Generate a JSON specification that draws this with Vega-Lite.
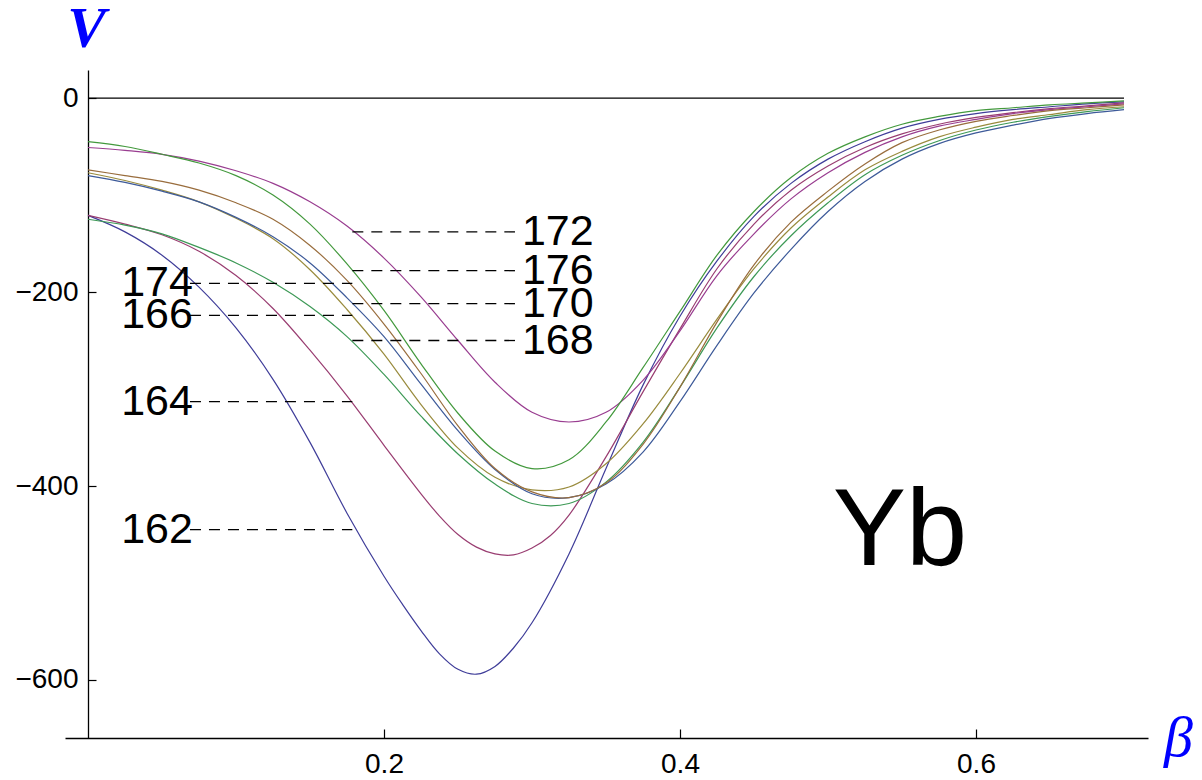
{
  "$schema": "https://vega.github.io/schema/vega-lite/v6.json",
  "width": 1083,
  "height": 668,
  "autosize": {"type": "none"},
  "padding": {"left": 65, "top": 70, "right": 54, "bottom": 42},
  "background": "white",
  "config": {
    "view": {"stroke": null},
    "axis": {"grid": false, "domainColor": "black", "tickColor": "black", "labelColor": "black", "labelFont": "Liberation Sans", "labelFontSize": 28, "domainWidth": 1.3, "tickWidth": 1.2}
  },
  "datasets": {
    "curves": [
      {"iso":"162","b":0,"V":-121},{"iso":"162","b":0.025,"V":-138},{"iso":"162","b":0.05,"V":-162},{"iso":"162","b":0.075,"V":-195},{"iso":"162","b":0.1,"V":-237},{"iso":"162","b":0.125,"V":-290},{"iso":"162","b":0.15,"V":-355},{"iso":"162","b":0.175,"V":-428},{"iso":"162","b":0.2,"V":-493},{"iso":"162","b":0.2125,"V":-522},{"iso":"162","b":0.225,"V":-549},{"iso":"162","b":0.2375,"V":-573},{"iso":"162","b":0.25,"V":-589},{"iso":"162","b":0.2625,"V":-594},{"iso":"162","b":0.275,"V":-586},{"iso":"162","b":0.2875,"V":-567},{"iso":"162","b":0.3,"V":-541},{"iso":"162","b":0.325,"V":-470},{"iso":"162","b":0.35,"V":-382},{"iso":"162","b":0.375,"V":-296},{"iso":"162","b":0.4,"V":-225},{"iso":"162","b":0.425,"V":-168},{"iso":"162","b":0.45,"V":-122},{"iso":"162","b":0.475,"V":-88},{"iso":"162","b":0.5,"V":-63},{"iso":"162","b":0.525,"V":-45},{"iso":"162","b":0.55,"V":-31},{"iso":"162","b":0.575,"V":-22},{"iso":"162","b":0.6,"V":-16},{"iso":"162","b":0.625,"V":-12},{"iso":"162","b":0.65,"V":-9},{"iso":"162","b":0.675,"V":-6},{"iso":"162","b":0.7,"V":-4},
      {"iso":"164","b":0,"V":-121},{"iso":"164","b":0.025,"V":-130},{"iso":"164","b":0.05,"V":-141},{"iso":"164","b":0.075,"V":-158},{"iso":"164","b":0.1,"V":-183},{"iso":"164","b":0.125,"V":-217},{"iso":"164","b":0.15,"V":-260},{"iso":"164","b":0.175,"V":-307},{"iso":"164","b":0.2,"V":-358},{"iso":"164","b":0.225,"V":-408},{"iso":"164","b":0.2375,"V":-431},{"iso":"164","b":0.25,"V":-450},{"iso":"164","b":0.2625,"V":-463},{"iso":"164","b":0.275,"V":-470},{"iso":"164","b":0.2875,"V":-471},{"iso":"164","b":0.3,"V":-464},{"iso":"164","b":0.3125,"V":-451},{"iso":"164","b":0.325,"V":-430},{"iso":"164","b":0.35,"V":-370},{"iso":"164","b":0.375,"V":-303},{"iso":"164","b":0.4,"V":-238},{"iso":"164","b":0.425,"V":-176},{"iso":"164","b":0.45,"V":-130},{"iso":"164","b":0.475,"V":-95},{"iso":"164","b":0.5,"V":-70},{"iso":"164","b":0.525,"V":-51},{"iso":"164","b":0.55,"V":-37},{"iso":"164","b":0.575,"V":-27},{"iso":"164","b":0.6,"V":-20},{"iso":"164","b":0.625,"V":-15},{"iso":"164","b":0.65,"V":-11},{"iso":"164","b":0.675,"V":-8},{"iso":"164","b":0.7,"V":-5},
      {"iso":"166","b":0,"V":-77},{"iso":"166","b":0.025,"V":-85},{"iso":"166","b":0.05,"V":-95},{"iso":"166","b":0.075,"V":-107},{"iso":"166","b":0.1,"V":-124},{"iso":"166","b":0.125,"V":-145},{"iso":"166","b":0.15,"V":-177},{"iso":"166","b":0.175,"V":-218},{"iso":"166","b":0.2,"V":-264},{"iso":"166","b":0.225,"V":-316},{"iso":"166","b":0.25,"V":-361},{"iso":"166","b":0.275,"V":-391},{"iso":"166","b":0.3,"V":-404},{"iso":"166","b":0.325,"V":-401},{"iso":"166","b":0.35,"V":-377},{"iso":"166","b":0.375,"V":-336},{"iso":"166","b":0.4,"V":-284},{"iso":"166","b":0.425,"V":-228},{"iso":"166","b":0.45,"V":-176},{"iso":"166","b":0.475,"V":-134},{"iso":"166","b":0.5,"V":-102},{"iso":"166","b":0.525,"V":-74},{"iso":"166","b":0.55,"V":-55},{"iso":"166","b":0.575,"V":-40},{"iso":"166","b":0.6,"V":-30},{"iso":"166","b":0.625,"V":-22},{"iso":"166","b":0.65,"V":-17},{"iso":"166","b":0.675,"V":-12},{"iso":"166","b":0.7,"V":-9},
      {"iso":"168","b":0,"V":-125},{"iso":"168","b":0.025,"V":-131},{"iso":"168","b":0.05,"V":-140},{"iso":"168","b":0.075,"V":-154},{"iso":"168","b":0.1,"V":-170},{"iso":"168","b":0.125,"V":-190},{"iso":"168","b":0.15,"V":-215},{"iso":"168","b":0.175,"V":-246},{"iso":"168","b":0.2,"V":-285},{"iso":"168","b":0.225,"V":-328},{"iso":"168","b":0.25,"V":-367},{"iso":"168","b":0.275,"V":-398},{"iso":"168","b":0.3,"V":-418},{"iso":"168","b":0.325,"V":-418},{"iso":"168","b":0.35,"V":-396},{"iso":"168","b":0.375,"V":-355},{"iso":"168","b":0.4,"V":-298},{"iso":"168","b":0.425,"V":-237},{"iso":"168","b":0.45,"V":-184},{"iso":"168","b":0.475,"V":-142},{"iso":"168","b":0.5,"V":-108},{"iso":"168","b":0.525,"V":-79},{"iso":"168","b":0.55,"V":-59},{"iso":"168","b":0.575,"V":-44},{"iso":"168","b":0.6,"V":-33},{"iso":"168","b":0.625,"V":-25},{"iso":"168","b":0.65,"V":-19},{"iso":"168","b":0.675,"V":-14},{"iso":"168","b":0.7,"V":-10},
      {"iso":"170","b":0,"V":-80},{"iso":"170","b":0.025,"V":-87},{"iso":"170","b":0.05,"V":-96},{"iso":"170","b":0.075,"V":-107},{"iso":"170","b":0.1,"V":-123},{"iso":"170","b":0.125,"V":-143},{"iso":"170","b":0.15,"V":-170},{"iso":"170","b":0.175,"V":-206},{"iso":"170","b":0.2,"V":-246},{"iso":"170","b":0.225,"V":-295},{"iso":"170","b":0.25,"V":-343},{"iso":"170","b":0.275,"V":-383},{"iso":"170","b":0.3,"V":-408},{"iso":"170","b":0.325,"V":-412},{"iso":"170","b":0.35,"V":-398},{"iso":"170","b":0.375,"V":-365},{"iso":"170","b":0.4,"V":-313},{"iso":"170","b":0.425,"V":-255},{"iso":"170","b":0.45,"V":-201},{"iso":"170","b":0.475,"V":-156},{"iso":"170","b":0.5,"V":-117},{"iso":"170","b":0.525,"V":-86},{"iso":"170","b":0.55,"V":-63},{"iso":"170","b":0.575,"V":-47},{"iso":"170","b":0.6,"V":-36},{"iso":"170","b":0.625,"V":-28},{"iso":"170","b":0.65,"V":-21},{"iso":"170","b":0.675,"V":-16},{"iso":"170","b":0.7,"V":-12},
      {"iso":"172","b":0,"V":-51},{"iso":"172","b":0.025,"V":-54},{"iso":"172","b":0.05,"V":-58},{"iso":"172","b":0.075,"V":-65},{"iso":"172","b":0.1,"V":-75},{"iso":"172","b":0.125,"V":-88},{"iso":"172","b":0.15,"V":-107},{"iso":"172","b":0.175,"V":-132},{"iso":"172","b":0.2,"V":-165},{"iso":"172","b":0.225,"V":-205},{"iso":"172","b":0.25,"V":-250},{"iso":"172","b":0.275,"V":-293},{"iso":"172","b":0.3,"V":-324},{"iso":"172","b":0.325,"V":-334},{"iso":"172","b":0.35,"V":-324},{"iso":"172","b":0.375,"V":-291},{"iso":"172","b":0.4,"V":-240},{"iso":"172","b":0.425,"V":-183},{"iso":"172","b":0.45,"V":-140},{"iso":"172","b":0.475,"V":-104},{"iso":"172","b":0.5,"V":-77},{"iso":"172","b":0.525,"V":-56},{"iso":"172","b":0.55,"V":-40},{"iso":"172","b":0.575,"V":-29},{"iso":"172","b":0.6,"V":-22},{"iso":"172","b":0.625,"V":-16},{"iso":"172","b":0.65,"V":-12},{"iso":"172","b":0.675,"V":-9},{"iso":"172","b":0.7,"V":-6},
      {"iso":"174","b":0,"V":-74},{"iso":"174","b":0.025,"V":-80},{"iso":"174","b":0.05,"V":-86},{"iso":"174","b":0.075,"V":-95},{"iso":"174","b":0.1,"V":-108},{"iso":"174","b":0.125,"V":-125},{"iso":"174","b":0.15,"V":-152},{"iso":"174","b":0.175,"V":-188},{"iso":"174","b":0.2,"V":-233},{"iso":"174","b":0.225,"V":-284},{"iso":"174","b":0.25,"V":-338},{"iso":"174","b":0.275,"V":-382},{"iso":"174","b":0.3,"V":-406},{"iso":"174","b":0.325,"V":-412},{"iso":"174","b":0.35,"V":-397},{"iso":"174","b":0.375,"V":-357},{"iso":"174","b":0.4,"V":-298},{"iso":"174","b":0.425,"V":-231},{"iso":"174","b":0.45,"V":-172},{"iso":"174","b":0.475,"V":-128},{"iso":"174","b":0.5,"V":-96},{"iso":"174","b":0.525,"V":-68},{"iso":"174","b":0.55,"V":-46},{"iso":"174","b":0.575,"V":-33},{"iso":"174","b":0.6,"V":-24},{"iso":"174","b":0.625,"V":-18},{"iso":"174","b":0.65,"V":-13},{"iso":"174","b":0.675,"V":-10},{"iso":"174","b":0.7,"V":-7},
      {"iso":"176","b":0,"V":-45},{"iso":"176","b":0.025,"V":-50},{"iso":"176","b":0.05,"V":-58},{"iso":"176","b":0.075,"V":-67},{"iso":"176","b":0.1,"V":-80},{"iso":"176","b":0.125,"V":-100},{"iso":"176","b":0.15,"V":-130},{"iso":"176","b":0.175,"V":-171},{"iso":"176","b":0.2,"V":-219},{"iso":"176","b":0.225,"V":-274},{"iso":"176","b":0.25,"V":-325},{"iso":"176","b":0.275,"V":-364},{"iso":"176","b":0.3,"V":-382},{"iso":"176","b":0.325,"V":-373},{"iso":"176","b":0.35,"V":-334},{"iso":"176","b":0.375,"V":-278},{"iso":"176","b":0.4,"V":-220},{"iso":"176","b":0.425,"V":-162},{"iso":"176","b":0.45,"V":-117},{"iso":"176","b":0.475,"V":-82},{"iso":"176","b":0.5,"V":-57},{"iso":"176","b":0.525,"V":-40},{"iso":"176","b":0.55,"V":-27},{"iso":"176","b":0.575,"V":-19},{"iso":"176","b":0.6,"V":-13},{"iso":"176","b":0.625,"V":-10},{"iso":"176","b":0.65,"V":-7},{"iso":"176","b":0.675,"V":-5},{"iso":"176","b":0.7,"V":-3}
    ],
    "labels": [
      {"iso":"172","side":"R","V":-138,"d0":0.1786,"d1":0.2885,"tx":0.2932},
      {"iso":"176","side":"R","V":-178,"d0":0.1786,"d1":0.2885,"tx":0.2932},
      {"iso":"170","side":"R","V":-212,"d0":0.1786,"d1":0.2885,"tx":0.2932},
      {"iso":"168","side":"R","V":-250,"d0":0.1786,"d1":0.2885,"tx":0.2932},
      {"iso":"174","side":"L","V":-191,"d0":0.0689,"d1":0.1786,"tx":0.0709},
      {"iso":"166","side":"L","V":-224,"d0":0.0689,"d1":0.1786,"tx":0.0709},
      {"iso":"164","side":"L","V":-313,"d0":0.0689,"d1":0.1786,"tx":0.0709},
      {"iso":"162","side":"L","V":-445,"d0":0.0689,"d1":0.1786,"tx":0.0709}
    ],
    "zero": [{"b0":0,"b1":0.7,"V":0}],
    "element": [{"b":0.5486,"V":-447,"t":"Yb"}]
  },
  "layer": [
    {
      "data": {"name": "zero"},
      "mark": {"type": "rule", "color": "black", "strokeWidth": 1.3},
      "encoding": {
        "x": {"field": "b0", "type": "quantitative", "scale": {"domain": [-0.01554, 0.71622], "nice": false, "zero": false},
          "axis": {"values": [0.2, 0.4, 0.6], "format": ".1f", "tickSize": -9, "labelPadding": 21, "labelFlush": false,
            "title": "β", "titleX": 1113, "titleY": 17, "titleAlign": "center", "titleBaseline": "alphabetic", "titleFont": "Liberation Serif", "titleFontStyle": "italic", "titleFontWeight": "normal", "titleFontSize": 58, "titleColor": "#0000ff"}},
        "x2": {"field": "b1"},
        "y": {"field": "V", "type": "quantitative", "scale": {"domain": [-659.8, 28.9], "nice": false, "zero": false},
          "axis": {"values": [0, -200, -400, -600], "offset": -23, "tickSize": -8, "labelPadding": 18, "labelFlush": false,
            "labelExpr": "replace(format(datum.value, 'd'), '-', '−')",
            "title": "V", "titleAngle": 0, "titleX": -2, "titleY": -24, "titleAlign": "center", "titleBaseline": "alphabetic", "titleFont": "Liberation Serif", "titleFontStyle": "italic", "titleFontWeight": "bold", "titleFontSize": 58, "titleColor": "#0000ff"}}
      }
    },
    {
      "data": {"name": "curves"},
      "mark": {"type": "line", "interpolate": "catmull-rom", "strokeWidth": 1.2},
      "encoding": {
        "x": {"field": "b", "type": "quantitative"},
        "y": {"field": "V", "type": "quantitative"},
        "color": {"field": "iso", "type": "nominal", "legend": null,
          "scale": {"domain": ["162","164","166","168","170","172","174","176"], "range": ["#3f3d99","#993d71","#998b3d","#3d9956","#3d5a99","#993d90","#996d3d","#43993d"]}}
      }
    },
    {
      "data": {"name": "labels"},
      "mark": {"type": "rule", "color": "black", "strokeWidth": 1.3, "strokeDash": [11, 8]},
      "encoding": {
        "x": {"field": "d0", "type": "quantitative"},
        "x2": {"field": "d1"},
        "y": {"field": "V", "type": "quantitative"}
      }
    },
    {
      "data": {"name": "labels"},
      "transform": [{"filter": "datum.side == 'L'"}],
      "mark": {"type": "text", "align": "right", "baseline": "middle", "font": "Liberation Sans", "fontSize": 43, "color": "black"},
      "encoding": {
        "x": {"field": "tx", "type": "quantitative"},
        "y": {"field": "V", "type": "quantitative"},
        "text": {"field": "iso"}
      }
    },
    {
      "data": {"name": "labels"},
      "transform": [{"filter": "datum.side == 'R'"}],
      "mark": {"type": "text", "align": "left", "baseline": "middle", "font": "Liberation Sans", "fontSize": 43, "color": "black"},
      "encoding": {
        "x": {"field": "tx", "type": "quantitative"},
        "y": {"field": "V", "type": "quantitative"},
        "text": {"field": "iso"}
      }
    },
    {
      "data": {"name": "element"},
      "mark": {"type": "text", "align": "center", "baseline": "middle", "font": "Liberation Sans", "fontSize": 110, "color": "black"},
      "encoding": {
        "x": {"field": "b", "type": "quantitative"},
        "y": {"field": "V", "type": "quantitative"},
        "text": {"field": "t"}
      }
    }
  ]
}
